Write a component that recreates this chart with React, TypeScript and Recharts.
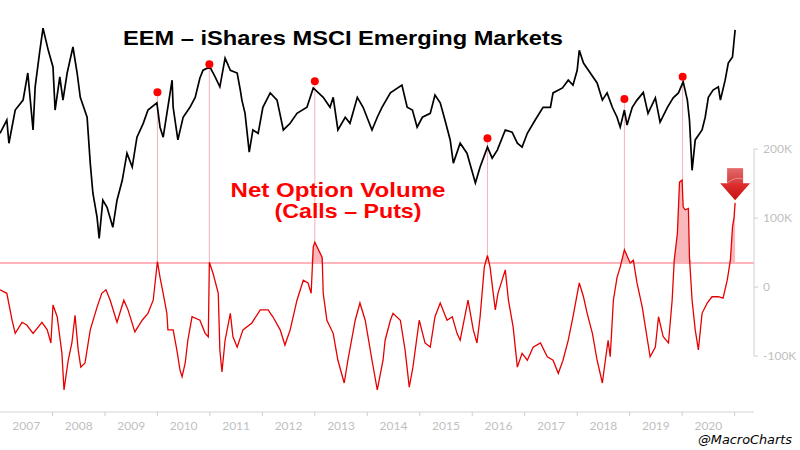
import React from "react";
import {
  Area,
  ComposedChart,
  Line,
  ReferenceDot,
  ReferenceLine,
  XAxis,
  YAxis
} from "recharts";

// EEM close (USD), [decimal year, price]
const eemPrice: [number, number][] = [
  [2007.0, 36.6], [2007.13, 39.0], [2007.17, 34.8], [2007.29, 40.8], [2007.44, 42.6], [2007.53, 47.5],
  [2007.63, 37.2], [2007.67, 45.0], [2007.76, 51.6], [2007.82, 55.6], [2007.92, 51.6], [2008.01, 48.6],
  [2008.05, 40.8], [2008.14, 46.8], [2008.2, 42.6], [2008.28, 47.5], [2008.39, 52.2], [2008.47, 47.5],
  [2008.53, 43.1], [2008.66, 39.5], [2008.72, 31.2], [2008.77, 25.8], [2008.85, 21.4], [2008.89, 17.6],
  [2008.96, 24.5], [2009.04, 23.2], [2009.15, 19.6], [2009.23, 24.5], [2009.33, 28.1], [2009.42, 33.0],
  [2009.52, 30.5], [2009.61, 35.9], [2009.73, 38.4], [2009.82, 40.8], [2009.99, 42.1], [2010.05, 37.7],
  [2010.11, 35.9], [2010.28, 46.2], [2010.3, 41.3], [2010.39, 35.4], [2010.49, 39.5], [2010.62, 41.3],
  [2010.72, 43.1], [2010.81, 46.6], [2010.87, 48.0], [2011.0, 48.6], [2011.1, 46.8], [2011.19, 45.0],
  [2011.29, 50.2], [2011.39, 48.0], [2011.52, 47.5], [2011.58, 44.4], [2011.61, 42.6], [2011.67, 40.2],
  [2011.75, 33.2], [2011.82, 37.2], [2011.92, 36.6], [2012.01, 41.3], [2012.15, 43.9], [2012.28, 42.6],
  [2012.4, 37.2], [2012.53, 38.4], [2012.66, 40.2], [2012.85, 41.3], [2012.97, 44.8], [2013.16, 43.1],
  [2013.29, 41.3], [2013.35, 43.1], [2013.44, 37.2], [2013.58, 39.5], [2013.67, 38.4], [2013.81, 43.1],
  [2013.92, 41.3], [2014.09, 37.2], [2014.19, 39.5], [2014.28, 41.3], [2014.44, 43.9], [2014.66, 45.3],
  [2014.76, 41.3], [2014.86, 40.8], [2014.95, 37.7], [2015.05, 39.5], [2015.2, 40.2], [2015.29, 43.5],
  [2015.39, 42.1], [2015.48, 39.0], [2015.58, 35.4], [2015.64, 31.2], [2015.77, 34.8], [2015.9, 33.0],
  [2016.06, 27.6], [2016.15, 30.5], [2016.29, 34.1], [2016.38, 32.1], [2016.48, 33.6], [2016.63, 37.2],
  [2016.76, 36.8], [2016.86, 34.8], [2016.95, 34.1], [2017.05, 36.6], [2017.2, 39.0], [2017.35, 41.3],
  [2017.49, 41.3], [2017.54, 43.9], [2017.72, 44.8], [2017.83, 46.2], [2017.92, 45.3], [2018.0, 48.0],
  [2018.04, 51.6], [2018.12, 49.3], [2018.25, 47.5], [2018.38, 45.7], [2018.48, 42.6], [2018.57, 43.9],
  [2018.67, 41.3], [2018.76, 39.5], [2018.82, 37.7], [2018.9, 40.8], [2018.95, 38.1], [2019.05, 41.3],
  [2019.14, 42.6], [2019.26, 44.0], [2019.35, 40.2], [2019.49, 43.0], [2019.58, 38.6], [2019.72, 41.3],
  [2019.83, 43.0], [2019.93, 43.9], [2020.02, 45.9], [2020.1, 42.6], [2020.14, 39.0], [2020.19, 29.9],
  [2020.25, 35.4], [2020.38, 37.2], [2020.44, 39.5], [2020.5, 43.1], [2020.59, 44.4], [2020.69, 45.0],
  [2020.73, 42.6], [2020.82, 46.2], [2020.88, 49.3], [2020.96, 50.4], [2021.01, 55.3]
];

// Net option volume, calls - puts (thousands), [decimal year, value]
const netVolume: [number, number][] = [
  [2007.0, -4], [2007.13, -9], [2007.23, -48], [2007.29, -67], [2007.42, -51], [2007.51, -55],
  [2007.63, -67], [2007.8, -51], [2007.9, -62], [2007.97, -81], [2008.01, -26], [2008.09, -43],
  [2008.18, -96], [2008.22, -149], [2008.3, -106], [2008.37, -81], [2008.43, -41], [2008.49, -91],
  [2008.54, -116], [2008.62, -110], [2008.72, -62], [2008.85, -29], [2008.94, -9], [2009.02, -4],
  [2009.1, -19], [2009.23, -51], [2009.36, -19], [2009.44, -33], [2009.57, -65], [2009.71, -48],
  [2009.82, -38], [2009.92, -19], [2010.0, 37], [2010.05, 14], [2010.11, -9], [2010.18, -38],
  [2010.2, -62], [2010.3, -62], [2010.37, -91], [2010.43, -120], [2010.47, -130], [2010.53, -110],
  [2010.58, -77], [2010.66, -43], [2010.81, -48], [2010.91, -67], [2010.97, -72], [2010.99, 36],
  [2011.06, 20], [2011.16, -9], [2011.19, -91], [2011.23, -123], [2011.29, -77], [2011.39, -38],
  [2011.44, -72], [2011.52, -87], [2011.63, -62], [2011.8, -52], [2011.96, -33], [2012.11, -33],
  [2012.2, -43], [2012.34, -62], [2012.43, -84], [2012.53, -62], [2012.66, -19], [2012.78, 10],
  [2012.87, 6], [2012.93, -9], [2012.97, 58], [2013.0, 65], [2013.14, 43], [2013.16, -9],
  [2013.23, -48], [2013.35, -67], [2013.44, -106], [2013.56, -139], [2013.63, -106], [2013.77, -48],
  [2013.86, -23], [2013.96, -48], [2014.09, -106], [2014.19, -149], [2014.3, -106], [2014.34, -77],
  [2014.44, -48], [2014.49, -38], [2014.63, -48], [2014.72, -91], [2014.8, -145], [2014.87, -116],
  [2014.99, -48], [2015.1, -81], [2015.2, -87], [2015.29, -43], [2015.39, -23], [2015.52, -48],
  [2015.62, -43], [2015.71, -67], [2015.77, -77], [2015.87, -38], [2015.92, -19], [2016.02, -62],
  [2016.09, -81], [2016.15, -43], [2016.23, 29], [2016.29, 46], [2016.34, 29], [2016.4, -9],
  [2016.44, -33], [2016.49, -9], [2016.63, 25], [2016.69, -19], [2016.78, -58], [2016.86, -116],
  [2016.95, -96], [2017.05, -106], [2017.16, -87], [2017.3, -81], [2017.43, -101], [2017.54, -106],
  [2017.64, -125], [2017.73, -106], [2017.83, -77], [2017.92, -43], [2018.04, 6], [2018.12, -14],
  [2018.19, -38], [2018.29, -67], [2018.38, -106], [2018.48, -139], [2018.53, -110], [2018.59, -77],
  [2018.63, -101], [2018.69, -19], [2018.76, 14], [2018.82, 29], [2018.9, 54], [2019.01, 35],
  [2019.07, 39], [2019.14, 6], [2019.24, -29], [2019.34, -77], [2019.39, -101], [2019.49, -87],
  [2019.55, -43], [2019.64, -72], [2019.74, -81], [2019.81, -19], [2019.85, 39], [2019.91, 78],
  [2019.95, 152], [2020.0, 155], [2020.02, 116], [2020.06, 112], [2020.12, 114], [2020.14, 43],
  [2020.19, -19], [2020.25, -62], [2020.31, -91], [2020.38, -38], [2020.48, -23], [2020.57, -14],
  [2020.69, -14], [2020.78, -16], [2020.86, 10], [2020.92, 39], [2020.96, 87], [2020.99, 101],
  [2021.01, 122]
];

// marked tops: dot on price, line down to the option-volume spike
const peakDates = [2010.0, 2010.99, 2013.0, 2016.29, 2018.9, 2020.01];
const peakPrices = [44.0, 49.1, 46.0, 35.7, 42.8, 46.8];
const peakVolumes = [37, 36, 65, 46, 54, 155];

const yearLabels = ["2007", "2008", "2009", "2010", "2011", "2012", "2013", "2014", "2015", "2016", "2017", "2018", "2019", "2020"];
const volTicks = [-100, 0, 100, 200];
const threshold = 35;
const arrowDate = 2021.01;
const arrowValue = 126;

const X_DOMAIN: [number, number] = [2007, 2021.37];
const PRICE_DOMAIN: [number, number] = [-13.8, 60.7];
const VOL_DOMAIN: [number, number] = [-181, 416];

const priceRows = eemPrice.map(([t, price]) => ({ t, price }));
const volRows = netVolume.map(([t, vol]) => ({ t, vol, shade: Math.max(vol, threshold) }));

// both y axes share the plot height, so a price can be expressed on the volume axis
const priceToVol = (p: number) =>
  VOL_DOMAIN[0] + ((p - PRICE_DOMAIN[0]) / (PRICE_DOMAIN[1] - PRICE_DOMAIN[0])) * (VOL_DOMAIN[1] - VOL_DOMAIN[0]);

const xTicks: number[] = [];
yearLabels.forEach((y) => {
  xTicks.push(Number(y) + 0.5, Number(y) + 1);
});

const AXIS_GREY = "#bfbfbf";

function YearTick({ x, y, payload }: any) {
  const v = payload.value as number;
  if (Number.isInteger(v)) {
    return <line x1={x} x2={x} y1={y} y2={y + 4} stroke="#cfcfcf" />;
  }
  return (
    <text x={x} y={y + 18} textAnchor="middle" fill={AXIS_GREY} fontSize={12} fontFamily="Lato">
      {Math.floor(v)}
    </text>
  );
}

function DownArrow({ cx, cy }: any) {
  return (
    <g>
      <defs>
        <linearGradient id="arrowBody" x1="0" y1="0" x2="0" y2="1">
          <stop offset="0%" stopColor="#e46a6a" />
          <stop offset="100%" stopColor="#d23a3a" />
        </linearGradient>
        <linearGradient id="arrowHead" x1="0" y1="0" x2="0" y2="1">
          <stop offset="0%" stopColor="#e03030" />
          <stop offset="100%" stopColor="#c41010" />
        </linearGradient>
      </defs>
      <rect x={cx - 8} y={cy - 32} width={16} height={16} fill="url(#arrowBody)" />
      <path d={`M${cx - 15},${cy - 17} L${cx + 15},${cy - 17} L${cx},${cy} Z`} fill="url(#arrowHead)" />
      <path d={`M${cx - 8},${cy - 17} Q${cx},${cy - 24} ${cx + 8},${cy - 21}`} stroke="#ef8a8a" strokeWidth={1} fill="none" />
    </g>
  );
}

export default function App() {
  return (
    <div style={{ position: "absolute", left: 0, top: 0, width: 800, height: 450, background: "#fff" }}>
      <ComposedChart width={800} height={450} margin={{ top: 0, right: 0, bottom: 0, left: 0 }}>
        <XAxis
          type="number"
          dataKey="t"
          domain={X_DOMAIN}
          allowDataOverflow
          ticks={xTicks}
          interval={0}
          tick={<YearTick />}
          tickLine={false}
          tickSize={0}
          tickMargin={0}
          axisLine={{ stroke: "#d4d4d4" }}
          height={38}
        />
        <YAxis yAxisId="price" hide domain={PRICE_DOMAIN} allowDataOverflow />
        <YAxis
          yAxisId="vol"
          orientation="right"
          domain={VOL_DOMAIN}
          allowDataOverflow
          ticks={volTicks}
          interval={0}
          width={46}
          axisLine={false}
          tickLine={{ stroke: "#cfcfcf" }}
          tickSize={4}
          tickMargin={5}
          tick={{ fill: AXIS_GREY, fontSize: 12, fontFamily: "Lato" }}
          tickFormatter={(v: number) => (v === 0 ? "0" : `${v}K`)}
        />
        <ReferenceLine
          yAxisId="vol"
          ifOverflow="visible"
          segment={[{ x: X_DOMAIN[1], y: volTicks[0] }, { x: X_DOMAIN[1], y: volTicks[volTicks.length - 1] }]}
          stroke="#cfcfcf"
        />
        <Area
          yAxisId="vol"
          data={volRows}
          dataKey="shade"
          baseValue={threshold}
          type="linear"
          stroke="none"
          fill="#f9b8bc"
          fillOpacity={1}
          dot={false}
          activeDot={false}
          isAnimationActive={false}
        />
        <ReferenceLine yAxisId="vol" y={threshold} stroke="#ffb3ba" strokeWidth={2} />
        {peakDates.map((t, i) => (
          <ReferenceLine
            key={`v${t}`}
            yAxisId="vol"
            segment={[{ x: t, y: priceToVol(peakPrices[i]) }, { x: t, y: peakVolumes[i] }]}
            stroke="#f2b3b7"
            strokeWidth={1}
          />
        ))}
        <Line
          yAxisId="vol"
          data={volRows}
          dataKey="vol"
          type="linear"
          stroke="#e60000"
          strokeWidth={1.3}
          dot={false}
          activeDot={false}
          isAnimationActive={false}
        />
        <Line
          yAxisId="price"
          data={priceRows}
          dataKey="price"
          type="linear"
          stroke="#000"
          strokeWidth={1.7}
          dot={false}
          activeDot={false}
          isAnimationActive={false}
        />
        {peakDates.map((t, i) => (
          <ReferenceDot key={`d${t}`} yAxisId="price" x={t} y={peakPrices[i]} r={4} fill="#ff0000" stroke="none" />
        ))}
        <ReferenceDot yAxisId="vol" x={arrowDate} y={arrowValue} shape={(p: any) => <DownArrow {...p} />} />
      </ComposedChart>
      <svg width={800} height={450} style={{ position: "absolute", left: 0, top: 0, pointerEvents: "none" }}>
        <text x={343} y={45} textAnchor="middle" fontFamily="Liberation Sans" fontWeight="bold" fontSize={21} fill="#000" textLength={440} lengthAdjust="spacingAndGlyphs">
          EEM – iShares MSCI Emerging Markets
        </text>
        <text x={338} y={197} textAnchor="middle" fontFamily="Liberation Sans" fontWeight="bold" fontSize={21} fill="#ff0000" textLength={215} lengthAdjust="spacingAndGlyphs">
          Net Option Volume
        </text>
        <text x={348} y={218} textAnchor="middle" fontFamily="Liberation Sans" fontWeight="bold" fontSize={21} fill="#ff0000" textLength={147} lengthAdjust="spacingAndGlyphs">
          (Calls – Puts)
        </text>
        <text x={698} y={444} fontFamily="DejaVu Sans" fontStyle="italic" fontSize={13} fill="#000" textLength={94} lengthAdjust="spacingAndGlyphs">
          @MacroCharts
        </text>
      </svg>
    </div>
  );
}
